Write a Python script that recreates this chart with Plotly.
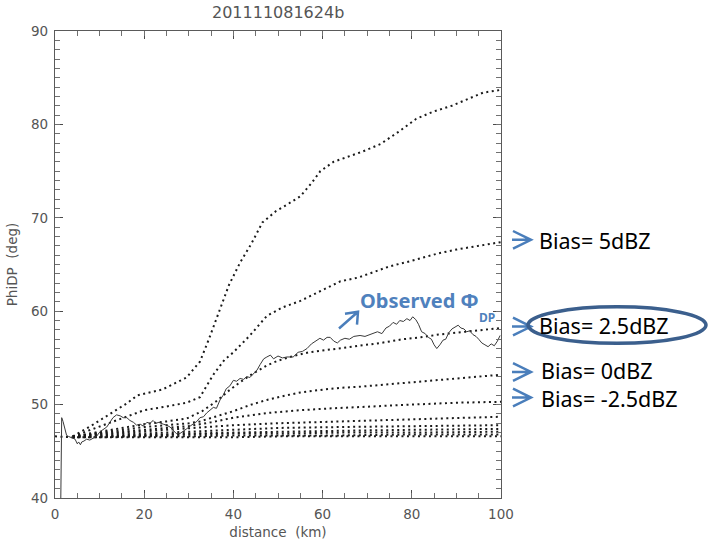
import plotly.graph_objects as go

# ---------------- data ----------------
# modelled PhiDP curves for different reflectivity biases (dotted)
bias_top_x = [4, 8, 12, 16, 18.5, 24, 29.5, 32.5, 34.5, 36.5, 39, 41.5, 44, 46.5, 49.5, 52, 55, 57.5, 59.5, 62.5, 66, 69, 73, 77, 81, 85, 89, 93, 96, 100]
bias_top_y = [46.6, 47.7, 48.9, 50.1, 51.0, 51.6, 52.9, 54.6, 57.0, 59.5, 62.8, 65.2, 67.2, 69.5, 70.7, 71.4, 72.3, 73.7, 75.0, 76.0, 76.6, 77.1, 77.9, 79.2, 80.6, 81.4, 82.0, 82.8, 83.4, 83.7]

bias_5_x = [4, 8, 12, 16, 20, 25, 29.5, 32.5, 35.5, 38, 40, 43.7, 47.5, 51, 55, 58, 62, 64, 68, 72, 75, 80, 86, 90, 95, 100]
bias_5_y = [46.6, 47.3, 48.0, 48.7, 49.4, 49.8, 50.2, 50.8, 53.2, 54.8, 55.6, 57.4, 59.5, 60.4, 61.1, 61.8, 62.7, 63.2, 63.6, 64.3, 64.8, 65.4, 66.2, 66.6, 67.0, 67.4]

bias_25_x = [4, 10, 15, 20, 25, 29.5, 33, 36, 39, 41.5, 44, 47.5, 50, 53.4, 57, 62, 64, 68, 73, 78, 82, 86, 90, 95, 100]
bias_25_y = [46.6, 47.1, 47.5, 47.9, 48.2, 48.5, 49.3, 50.3, 51.5, 52.4, 53.2, 54.2, 54.7, 55.2, 55.6, 55.9, 56.0, 56.3, 56.6, 57.0, 57.2, 57.5, 57.7, 58.0, 58.2]

bias_0_x = [4, 10, 15, 20, 25, 30, 32.5, 36, 40, 44, 47.5, 51, 55, 60, 64, 68, 75, 82, 90, 100]
bias_0_y = [46.6, 47.0, 47.3, 47.6, 47.8, 48.0, 48.2, 48.7, 49.3, 50.0, 50.5, 50.9, 51.3, 51.6, 51.8, 51.9, 52.2, 52.5, 52.8, 53.2]

bias_m25_x = [4, 10, 20, 30, 35, 40, 47.5, 55, 62, 70, 80, 90, 100]
bias_m25_y = [46.6, 46.9, 47.3, 47.7, 48.1, 48.6, 49.1, 49.4, 49.6, 49.8, 50.0, 50.2, 50.3]

low_x = [4, 10, 20, 30, 40, 50, 64, 80, 100]
bias_m5_y = [46.6, 46.8, 47.1, 47.4, 47.8, 48.0, 48.2, 48.4, 48.7]
bias_m75_y = [46.6, 46.7, 46.9, 47.1, 47.3, 47.5, 47.6, 47.7, 47.8]
bias_m10_y = [46.5, 46.6, 46.8, 46.9, 47.0, 47.1, 47.2, 47.3, 47.4]
bias_m125_y = [46.5, 46.6, 46.7, 46.8, 46.9, 46.9, 47.0, 47.0, 47.1]
bias_m15_y = [46.5, 46.5, 46.6, 46.6, 46.7, 46.7, 46.7, 46.8, 46.8]

base_x = [0, 4, 10, 20, 30, 40, 50, 64, 80, 100]
base_y = [46.6, 46.5, 46.5, 46.5, 46.5, 46.5, 46.6, 46.6, 46.6, 46.6]

# observed PhiDP (solid)
obs_x = [1.3, 1.5, 1.8, 2.2, 2.6, 3.0, 3.4, 4.0, 4.5, 5.0, 5.3, 5.7, 6.0, 6.5, 7.1, 7.8, 8.5, 9.3, 10.1, 10.8,
         11.6, 12.3, 13.0, 13.8, 14.6, 15.3, 16.1, 16.8, 17.6, 18.3, 19.1, 19.8, 20.6, 21.3, 22.0, 22.6, 23.3, 24.3, 25.0, 25.8,
         26.5, 27.2, 28.0, 28.7, 29.5, 30.3, 31.0, 31.8, 32.5, 33.3, 34.0, 34.8, 35.5, 36.2, 37.0, 37.7, 38.4, 39.2, 40.0, 40.7,
         41.5, 42.3, 43.0, 43.7, 44.5, 45.3, 46.0, 46.8, 47.5, 48.3, 49.0, 50.0, 51.0, 52.0, 53.4, 54.5, 55.5, 56.5, 57.5, 58.5,
         59.4, 60.2, 61.0, 61.7, 62.5, 63.3, 64.0, 65.0, 66.0, 67.0, 68.4, 69.5, 70.5, 71.3, 72.3, 73.3, 74.2, 75.0, 75.8, 76.6,
         77.3, 78.1, 78.9, 79.6, 80.2, 80.9, 81.5, 82.2, 83.0, 83.7, 84.4, 85.0, 85.6, 86.3, 87.0, 87.6, 88.3, 89.0, 89.7, 90.4,
         91.0, 91.7, 92.3, 93.0, 93.7, 94.4, 95.0, 95.7, 96.4, 97.1, 97.8, 98.5, 99.2, 99.8]
obs_y = [40.0, 48.6, 48.2, 47.4, 46.7, 46.6, 46.5, 46.4, 46.3, 45.8, 46.0, 45.7, 46.0, 46.1, 46.3, 46.2, 46.4, 46.6, 47.1, 47.3,
         47.6, 48.1, 48.6, 48.9, 48.8, 48.6, 48.6, 48.3, 48.1, 47.8, 47.9, 47.7, 48.1, 48.0, 48.3, 48.0, 48.1, 47.9, 47.8, 47.6,
         47.2, 46.9, 46.9, 47.1, 47.4, 47.7, 47.9, 48.2, 48.6, 48.7, 49.1, 49.4, 49.7, 49.6, 50.5, 51.0, 51.7, 52.0, 52.6, 52.5,
         52.8, 52.7, 53.0, 52.9, 53.3, 53.7, 54.3, 54.9, 55.1, 55.3, 54.9, 55.2, 55.0, 55.1, 55.1, 55.6, 55.7, 56.0, 56.5, 56.8,
         57.1, 56.9, 57.2, 57.2, 56.8, 56.6, 56.9, 57.1, 57.0, 57.3, 57.4, 57.3, 57.5, 57.6, 57.8, 57.6, 58.2, 58.4, 58.8, 58.6,
         59.0, 58.9, 59.2, 59.0, 59.4, 59.1, 58.6, 57.8, 57.6, 57.2, 57.0, 56.4, 56.0, 56.4, 56.9, 57.0, 57.7, 58.1, 58.3, 58.5,
         58.2, 58.1, 57.8, 57.9, 57.5, 57.3, 57.0, 56.6, 56.4, 56.2, 56.5, 56.3, 56.8, 57.4]

x_major_ticks = [0, 20, 40, 60, 80, 100]
y_major_ticks = [40, 50, 60, 70, 80, 90]
x_minor_ticks = [0, 5, 10, 15, 20, 25, 30, 35, 40, 45, 50, 55, 60, 65, 70, 75, 80, 85, 90, 95, 100]
y_minor_ticks = [40, 41, 42, 43, 44, 45, 46, 47, 48, 49, 50, 51, 52, 53, 54, 55, 56, 57, 58, 59, 60,
                 61, 62, 63, 64, 65, 66, 67, 68, 69, 70, 71, 72, 73, 74, 75, 76, 77, 78, 79, 80,
                 81, 82, 83, 84, 85, 86, 87, 88, 89, 90]
title_text = "201111081624b"
bias_labels = ["Bias= 5dBZ", "Bias= 2.5dBZ", "Bias= 0dBZ", "Bias= -2.5dBZ"]

# ---------------- figure ----------------
W, H = 708, 550
L, R, T, B = 55, 207, 31, 45
pw, ph = W - L - R, H - T - B


def px(x):
    return (x - L) / pw


def py(y):
    return (H - B - y) / ph


fig = go.Figure()

dot_style = dict(color="#1a1a1a", width=2, dash="2px,3.5px")
curves = [
    (bias_top_x, bias_top_y), (bias_5_x, bias_5_y), (bias_25_x, bias_25_y), (bias_0_x, bias_0_y),
    (bias_m25_x, bias_m25_y), (low_x, bias_m5_y), (low_x, bias_m75_y), (low_x, bias_m10_y),
    (low_x, bias_m125_y), (low_x, bias_m15_y), (base_x, base_y),
]
for cx, cy in curves:
    fig.add_trace(go.Scatter(x=cx, y=cy, mode="lines", line=dot_style, showlegend=False, hoverinfo="skip"))

fig.add_trace(go.Scatter(x=obs_x, y=obs_y, mode="lines", line=dict(color="#3a3a3a", width=1),
                         showlegend=False, hoverinfo="skip"))
# empty trace bound to the minor-tick overlay axes
fig.add_trace(go.Scatter(x=[None], y=[None], xaxis="x2", yaxis="y2", mode="lines",
                         showlegend=False, hoverinfo="skip"))

tick_col = "#4a4a4a"
axis_font = dict(family="DejaVu Sans", size=13.5, color="#555555")
common = dict(showline=True, linecolor="#5a5a5a", linewidth=1.2, mirror="ticks", ticks="inside",
              ticklen=8, tickcolor=tick_col, tickwidth=1.3, showgrid=False, zeroline=False, tickfont=axis_font)
minor_common = dict(showline=False, mirror="ticks", ticks="inside", ticklen=5, tickcolor="#707070",
                    tickwidth=1.2, showgrid=False, zeroline=False, showticklabels=False)

fig.update_layout(
    xaxis=dict(range=[0, 100], tickvals=x_major_ticks,
               title=dict(text="distance  (km)", font=axis_font, standoff=6),
               ticklabelstandoff=4, **common),
    yaxis=dict(range=[40, 90], tickvals=y_major_ticks,
               title=dict(text="PhiDP  (deg)", font=axis_font, standoff=10),
               ticklabelstandoff=3, **common),
    xaxis2=dict(range=[0, 100], tickvals=x_minor_ticks, overlaying="x", side="bottom",
                anchor="y2", **minor_common),
    yaxis2=dict(range=[40, 90], tickvals=y_minor_ticks, overlaying="y", side="left",
                anchor="x2", **minor_common),
)

annotations = [
    dict(text=title_text, x=0.5, y=py(12), xref="paper", yref="paper", showarrow=False,
         font=dict(family="DejaVu Sans", size=16, color="#555555"), xanchor="center", yanchor="middle"),
]
label_pos = [(538, 244), (538, 330), (540, 376), (540, 404)]
for txt, (lx, ly) in zip(bias_labels, label_pos):
    annotations.append(dict(text=txt, x=px(lx), y=py(ly), xref="paper", yref="paper", showarrow=False,
                            xanchor="left", yanchor="middle", borderpad=0,
                            font=dict(family="Noto Sans", size=21.5, color="#000000")))
annotations.append(dict(text="<b>Observed Φ</b>", x=px(358), y=py(305), xref="paper", yref="paper",
                        showarrow=False, xanchor="left", yanchor="middle",
                        font=dict(family="Noto Sans", size=20, color="#4f81bd")))
annotations.append(dict(text="<b>DP</b>", x=px(477), y=py(322), xref="paper", yref="paper",
                        showarrow=False, xanchor="left", yanchor="middle",
                        font=dict(family="Noto Sans", size=12, color="#4f81bd")))

shapes = []
arrow_col = "#4a7ebb"
for yc in [243, 331, 377, 403]:
    path = (f"M {px(512)},{py(yc)} L {px(531)},{py(yc)} "
            f"M {px(513)},{py(yc - 9)} L {px(531)},{py(yc)} L {px(513)},{py(yc + 9)}")
    shapes.append(dict(type="path", path=path, xref="paper", yref="paper",
                       line=dict(color=arrow_col, width=2.5)))
# arrow pointing to observed curve label
obs_arrow = (f"M {px(339)},{py(333)} L {px(358)},{py(316)} "
             f"M {px(345)},{py(318)} L {px(358)},{py(316)} L {px(357)},{py(329)}")
shapes.append(dict(type="path", path=obs_arrow, xref="paper", yref="paper",
                   line=dict(color=arrow_col, width=2.5)))
# ellipse around the 2.5 dBZ label
shapes.append(dict(type="circle", xref="paper", yref="paper", x0=px(528), x1=px(706),
                   y0=py(348), y1=py(311), line=dict(color="#3b5f8d", width=3.5)))

fig.update_layout(width=W, height=H, margin=dict(l=L, r=R, t=T, b=B),
                  paper_bgcolor="white", plot_bgcolor="white",
                  annotations=annotations, shapes=shapes, showlegend=False)

fig.write_html("out.html")
